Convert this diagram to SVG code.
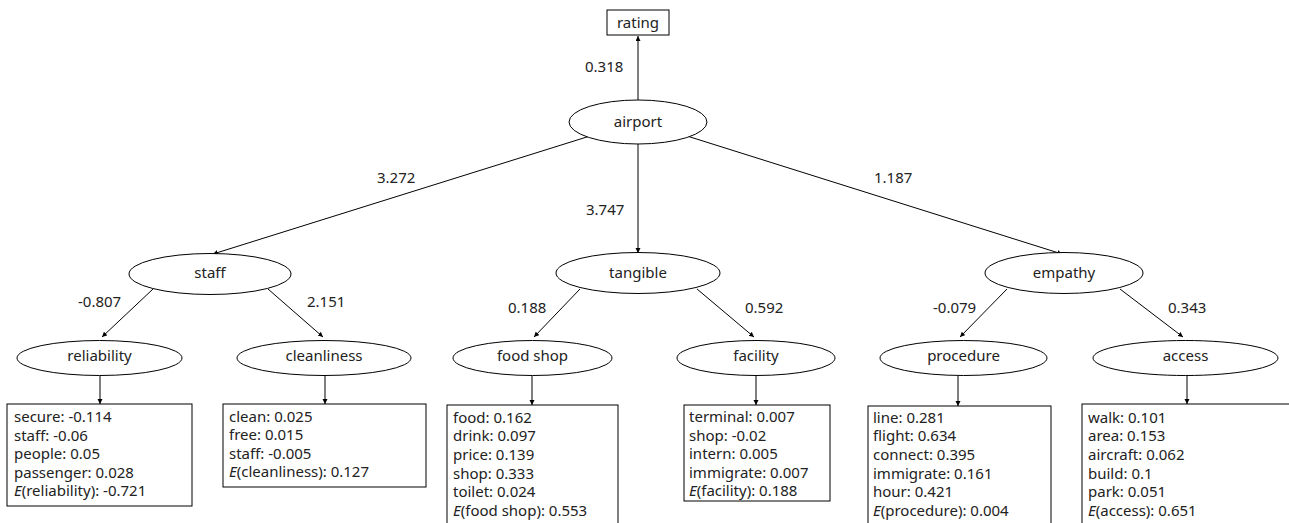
<svg xmlns="http://www.w3.org/2000/svg" width="1289" height="523" viewBox="0 0 1289 523">
  <style>
    text { font-family: "Noto Sans", "Liberation Sans", sans-serif; font-size: 15px; fill: #222; }
    .mid { text-anchor: middle; }
    .node { fill: #fff; stroke: #000; stroke-width: 1; }
    .box { fill: #fff; stroke: #000; stroke-width: 1; }
    .edge { stroke: #000; stroke-width: 1; fill: none; marker-end: url(#arrow); }
    .it { font-style: italic; }
  </style>
  <defs>
    <marker id="arrow" markerUnits="userSpaceOnUse" markerWidth="6" markerHeight="6" refX="5" refY="2.5" orient="auto">
      <path d="M0,0 L5,2.5 L0,5 z" fill="#000"/>
    </marker>
  </defs>
  <rect width="1289" height="523" fill="#fff"/>

  <!-- connectors -->
  <g id="connectors">
    <line class="edge" x1="638" y1="100" x2="638" y2="36"/>
    <line class="edge" x1="590" y1="136" x2="213" y2="254"/>
    <line class="edge" x1="638" y1="144" x2="638" y2="253"/>
    <line class="edge" x1="687" y1="136" x2="1062" y2="254"/>
    <line class="edge" x1="153" y1="289" x2="102" y2="337"/>
    <line class="edge" x1="268" y1="289" x2="323" y2="337"/>
    <line class="edge" x1="580" y1="289" x2="534" y2="337"/>
    <line class="edge" x1="697" y1="289" x2="754" y2="337"/>
    <line class="edge" x1="1007" y1="289" x2="960" y2="337"/>
    <line class="edge" x1="1120" y1="289" x2="1183" y2="337"/>
    <line class="edge" x1="100" y1="376" x2="100" y2="404"/>
    <line class="edge" x1="325" y1="376" x2="325" y2="404"/>
    <line class="edge" x1="532" y1="376" x2="532" y2="405"/>
    <line class="edge" x1="756" y1="376" x2="756" y2="405"/>
    <line class="edge" x1="958" y1="376" x2="958" y2="406"/>
    <line class="edge" x1="1187" y1="376" x2="1187" y2="404"/>
    <!-- edge weights -->
    <text x="585" y="72">0.318</text>
    <text x="377" y="183">3.272</text>
    <text x="586" y="215">3.747</text>
    <text x="874" y="183">1.187</text>
    <text x="78" y="307">-0.807</text>
    <text x="307" y="307">2.151</text>
    <text x="508" y="313">0.188</text>
    <text x="745" y="313">0.592</text>
    <text x="933" y="313">-0.079</text>
    <text x="1168" y="313">0.343</text>
  </g>

  <g id="rating">
    <rect class="box" x="607" y="10" width="62" height="25"/>
    <text class="mid" x="638" y="28">rating</text>
  </g>
  <g id="airport">
    <ellipse class="node" cx="638" cy="122" rx="69" ry="22"/>
    <text class="mid" x="638" y="127">airport</text>
  </g>
  <g id="staff">
    <ellipse class="node" cx="210" cy="274" rx="81" ry="20.5"/>
    <text class="mid" x="210" y="278">staff</text>
  </g>
  <g id="tangible">
    <ellipse class="node" cx="638" cy="273" rx="82" ry="20.5"/>
    <text class="mid" x="638" y="278">tangible</text>
  </g>
  <g id="empathy">
    <ellipse class="node" cx="1064" cy="273" rx="79" ry="20.5"/>
    <text class="mid" x="1064" y="278">empathy</text>
  </g>
  <g id="reliability">
    <ellipse class="node" cx="99.5" cy="358" rx="82.5" ry="17.5"/>
    <text class="mid" x="99.5" y="361">reliability</text>
  </g>
  <g id="cleanliness">
    <ellipse class="node" cx="324" cy="358" rx="87" ry="17.5"/>
    <text class="mid" x="324" y="361">cleanliness</text>
  </g>
  <g id="food-shop">
    <ellipse class="node" cx="532.5" cy="358" rx="79.5" ry="17.5"/>
    <text class="mid" x="532.5" y="361">food shop</text>
  </g>
  <g id="facility">
    <ellipse class="node" cx="756" cy="358" rx="79" ry="17.5"/>
    <text class="mid" x="756" y="361">facility</text>
  </g>
  <g id="procedure">
    <ellipse class="node" cx="963.5" cy="358" rx="83.5" ry="17.5"/>
    <text class="mid" x="963.5" y="361">procedure</text>
  </g>
  <g id="access">
    <ellipse class="node" cx="1185.5" cy="358" rx="92.5" ry="17.5"/>
    <text class="mid" x="1185.5" y="361">access</text>
  </g>

  <g id="reliability-terms">
    <rect class="box" x="7" y="404" width="185" height="102"/>
    <text x="14" y="422">secure: -0.114</text>
    <text x="14" y="440.5">staff: -0.06</text>
    <text x="14" y="459">people: 0.05</text>
    <text x="14" y="477.5">passenger: 0.028</text>
    <text x="14" y="496"><tspan class="it">E</tspan>(reliability): -0.721</text>
  </g>
  <g id="cleanliness-terms">
    <rect class="box" x="223" y="404" width="203" height="83"/>
    <text x="229" y="421.5">clean: 0.025</text>
    <text x="229" y="440">free: 0.015</text>
    <text x="229" y="458.5">staff: -0.005</text>
    <text x="229" y="477"><tspan class="it">E</tspan>(cleanliness): 0.127</text>
  </g>
  <g id="food-shop-terms">
    <rect class="box" x="447" y="405" width="171" height="130"/>
    <text x="453" y="422.5">food: 0.162</text>
    <text x="453" y="441.2">drink: 0.097</text>
    <text x="453" y="459.9">price: 0.139</text>
    <text x="453" y="478.6">shop: 0.333</text>
    <text x="453" y="497.3">toilet: 0.024</text>
    <text x="453" y="516"><tspan class="it">E</tspan>(food shop): 0.553</text>
  </g>
  <g id="facility-terms">
    <rect class="box" x="684" y="405" width="146" height="96"/>
    <text x="689" y="422">terminal: 0.007</text>
    <text x="689" y="440.5">shop: -0.02</text>
    <text x="689" y="459">intern: 0.005</text>
    <text x="689" y="477.5">immigrate: 0.007</text>
    <text x="689" y="496"><tspan class="it">E</tspan>(facility): 0.188</text>
  </g>
  <g id="procedure-terms">
    <rect class="box" x="868" y="406" width="183" height="130"/>
    <text x="873" y="422.5">line: 0.281</text>
    <text x="873" y="441.2">flight: 0.634</text>
    <text x="873" y="459.9">connect: 0.395</text>
    <text x="873" y="478.6">immigrate: 0.161</text>
    <text x="873" y="497.3">hour: 0.421</text>
    <text x="873" y="516"><tspan class="it">E</tspan>(procedure): 0.004</text>
  </g>
  <g id="access-terms">
    <rect class="box" x="1082" y="404" width="220" height="130"/>
    <text x="1088" y="422.5">walk: 0.101</text>
    <text x="1088" y="441.2">area: 0.153</text>
    <text x="1088" y="459.9">aircraft: 0.062</text>
    <text x="1088" y="478.6">build: 0.1</text>
    <text x="1088" y="497.3">park: 0.051</text>
    <text x="1088" y="516"><tspan class="it">E</tspan>(access): 0.651</text>
  </g>
</svg>
